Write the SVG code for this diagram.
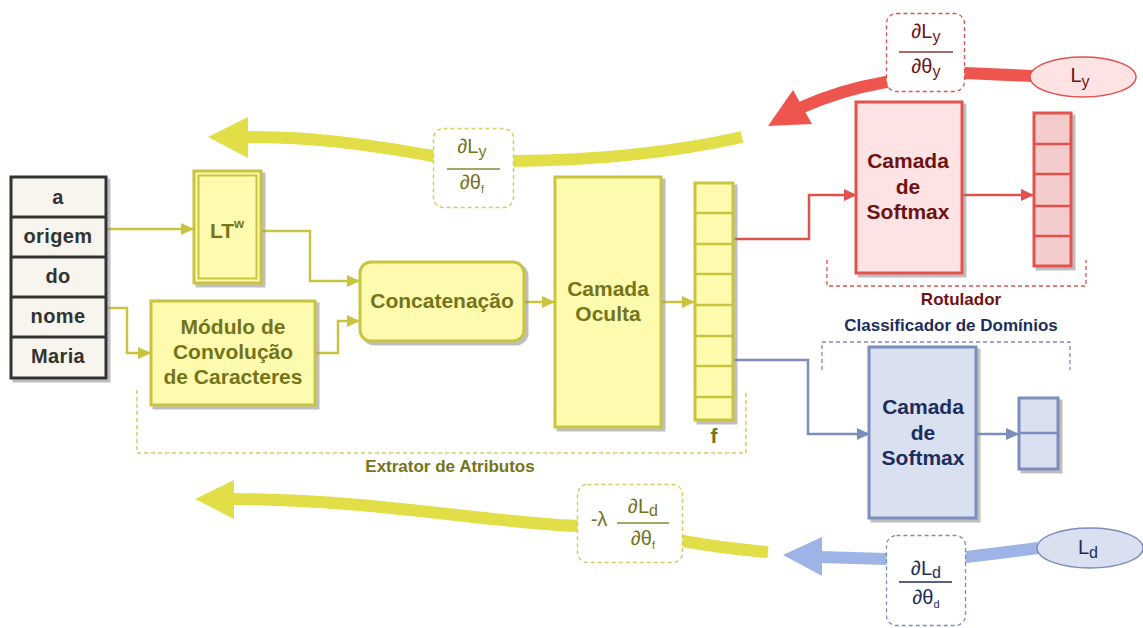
<svg xmlns="http://www.w3.org/2000/svg" width="1143" height="628" viewBox="0 0 1143 628">
<defs>
<filter id="sh" x="-10%" y="-10%" width="130%" height="130%"><feDropShadow dx="3" dy="3" stdDeviation="0.6" flood-color="#888" flood-opacity="0.55"/></filter>
<marker id="ay" markerUnits="userSpaceOnUse" markerWidth="13" markerHeight="12" refX="12" refY="6" orient="auto"><path d="M0,0 L13,6 L0,12 z" fill="#c9c43e"/></marker>
<marker id="ar" markerUnits="userSpaceOnUse" markerWidth="13" markerHeight="12" refX="12" refY="6" orient="auto"><path d="M0,0 L13,6 L0,12 z" fill="#e2524c"/></marker>
<marker id="ab" markerUnits="userSpaceOnUse" markerWidth="13" markerHeight="12" refX="12" refY="6" orient="auto"><path d="M0,0 L13,6 L0,12 z" fill="#7a8dbd"/></marker>
</defs>
<style>
text{font-family:"Liberation Sans",Arial,sans-serif;text-anchor:middle}
.b{font-weight:bold}
.yb{fill:#fefbae;stroke:#c9c43e;stroke-width:3}
.yt{fill:#74741a;font-weight:bold;font-size:21px}
.wt{fill:#333;font-weight:bold;font-size:20px;letter-spacing:0.4px}
.rb{fill:#fde3e3;stroke:#e2524c;stroke-width:3}
.rv{fill:#f4cccc;stroke:#e2524c;stroke-width:3}
.rt{fill:#6e1313;font-weight:bold;font-size:21px}
.bb{fill:#d9e0f0;stroke:#7a8dbd;stroke-width:3}
.bt{fill:#1c2d5e;font-weight:bold;font-size:21px}
.cy{fill:none;stroke:#c9c43e;stroke-width:2.5}
.cr{fill:none;stroke:#e2524c;stroke-width:2.5}
.cbl{fill:none;stroke:#7a8dbd;stroke-width:2.5}
.fr{font-size:20px}
.lb{font-weight:bold;font-size:17px}
</style>

<g id="connectors">
<path class="cy" d="M106,229 H193" marker-end="url(#ay)"/>
<path class="cy" d="M106,308 H127 V353 H150" marker-end="url(#ay)"/>
<path class="cy" d="M262,231 H310 V281 H359" marker-end="url(#ay)"/>
<path class="cy" d="M316,353 H338 V321 H359" marker-end="url(#ay)"/>
<path class="cy" d="M525,302 H554" marker-end="url(#ay)"/>
<path class="cy" d="M662,302 H694" marker-end="url(#ay)"/>
<path class="cr" d="M733,239 H809 V195 H856" marker-end="url(#ar)"/>
<path class="cr" d="M963,195 H1033" marker-end="url(#ar)"/>
<path class="cbl" d="M733,360 H808 V434 H869" marker-end="url(#ab)"/>
<path class="cbl" d="M977,434 H1018" marker-end="url(#ab)"/>
<path d="M742,137 Q640,160 514,161 L433,156 C360,143 310,137 246,137" fill="none" stroke="#e2de48" stroke-width="12"/>
<path d="M208,137 L248,117 L248,158 z" fill="#e2de48"/>
<path d="M768,552 Q720,548 683,541 L577,526 C480,522 380,500 232,499" fill="none" stroke="#e2de48" stroke-width="12"/>
<path d="M195,499 L234,480 L234,519 z" fill="#e2de48"/>
<path d="M1032,76 L965,73 L886,82 Q840,90 800,108" fill="none" stroke="#ee554f" stroke-width="12"/>
<path d="M768,126 L793,90 L812,124 z" fill="#ee554f"/>
<path d="M1038,548 Q1000,553 966,557 L886,559 L820,557" fill="none" stroke="#9fb4e6" stroke-width="12"/>
<path d="M783,555 L822,537 L822,576 z" fill="#9fb4e6"/>
</g>

<g id="words" filter="url(#sh)">
<rect x="11" y="177" width="95" height="201" fill="#f7f5ee" stroke="#333" stroke-width="3"/>
<path d="M11,217 H106 M11,257 H106 M11,297 H106 M11,337 H106" stroke="#333" stroke-width="3"/>
</g>
<g id="word-texts">
<text class="wt" x="58" y="204">a</text>
<text class="wt" x="58" y="243">origem</text>
<text class="wt" x="58" y="283">do</text>
<text class="wt" x="58" y="323">nome</text>
<text class="wt" x="58" y="363">Maria</text>
</g>

<g id="ltw">
<rect class="yb" x="194" y="171" width="67" height="112" filter="url(#sh)"/>
<rect x="198.5" y="175.5" width="58" height="103" fill="none" stroke="#c9c43e" stroke-width="2"/>
<text class="yt" x="227" y="238">LT<tspan font-size="13" dy="-10">w</tspan></text>
</g>

<g id="modulo">
<rect class="yb" x="151" y="301" width="164" height="104" filter="url(#sh)"/>
<text class="yt" x="233" y="334">Módulo de</text>
<text class="yt" x="233" y="359">Convolução</text>
<text class="yt" x="233" y="384">de Caracteres</text>
</g>

<g id="concat">
<rect class="yb" x="360" y="262" width="164" height="79" rx="11" filter="url(#sh)"/>
<text class="yt" x="442" y="308">Concatenação</text>
</g>

<g id="oculta">
<rect class="yb" x="555" y="177" width="106" height="250" filter="url(#sh)"/>
<text class="yt" x="608" y="296">Camada</text>
<text class="yt" x="608" y="321">Oculta</text>
</g>

<g id="fvec">
<rect class="yb" x="695" y="183" width="38" height="237" filter="url(#sh)"/>
<path d="M695,213 H733 M695,244 H733 M695,274 H733 M695,305 H733 M695,336 H733 M695,366 H733 M695,397 H733" stroke="#c9c43e" stroke-width="2.5"/>
<text class="yt" x="714" y="443" font-size="19">f</text>
</g>

<g id="extrator">
<path d="M137,390 V453 H746 V393" fill="none" stroke="#d2ce62" stroke-width="1.5" stroke-dasharray="4,3"/>
<text class="lb" x="450" y="472" fill="#74741a">Extrator de Atributos</text>
</g>

<g id="grad-top">
<rect x="433.5" y="128.5" width="80" height="79" rx="10" fill="#fff" stroke="#d2ce62" stroke-width="1.5" stroke-dasharray="4,3"/>
<text class="fr" x="472" y="153" fill="#74741a">∂L<tspan font-size="16" dy="4">y</tspan></text>
<line x1="447" y1="169" x2="500" y2="169" stroke="#8a8a30" stroke-width="1.5"/>
<text class="fr" x="472" y="189" fill="#74741a">∂θ<tspan font-size="11" dy="4">f</tspan></text>
</g>

<g id="grad-bottom">
<rect x="577.5" y="484.5" width="105" height="78" rx="10" fill="#fff" stroke="#d2ce62" stroke-width="1.5" stroke-dasharray="4,3"/>
<text class="fr" x="599" y="526" fill="#74741a">-λ</text>
<text class="fr" x="643" y="513" fill="#74741a">∂L<tspan font-size="16" dy="3">d</tspan></text>
<line x1="617" y1="523" x2="669" y2="523" stroke="#8a8a30" stroke-width="1.5"/>
<text class="fr" x="643" y="545" fill="#74741a">∂θ<tspan font-size="11" dy="4">f</tspan></text>
</g>

<g id="softmax-red">
<rect class="rb" x="856" y="102" width="106" height="171" filter="url(#sh)"/>
<text class="rt" x="908" y="168">Camada</text>
<text class="rt" x="908" y="194">de</text>
<text class="rt" x="908" y="219">Softmax</text>
</g>

<g id="vec-red">
<rect class="rv" x="1034" y="113" width="37" height="153" filter="url(#sh)"/>
<path d="M1034,144 H1071 M1034,174 H1071 M1034,206 H1071 M1034,236 H1071" stroke="#e2524c" stroke-width="2.5"/>
</g>

<g id="rotulador">
<path d="M827,260 V286 H1086 V260" fill="none" stroke="#e2524c" stroke-width="1.3" stroke-dasharray="4,3"/>
<text class="lb" x="961" y="305" fill="#6e1313">Rotulador</text>
</g>

<g id="ly">
<ellipse cx="1083" cy="77" rx="53" ry="20" fill="#fde3e3" stroke="#e2524c" stroke-width="1.5"/>
<text class="fr" x="1080" y="82" fill="#6e1313" font-size="21">L<tspan font-size="16" dy="5">y</tspan></text>
</g>

<g id="grad-ly">
<rect x="886.5" y="13.5" width="78" height="78" rx="10" fill="#fff" stroke="#e2524c" stroke-width="1.3" stroke-dasharray="4,3"/>
<text class="fr" x="926" y="38" fill="#6e1313">∂L<tspan font-size="16" dy="4">y</tspan></text>
<line x1="899" y1="52" x2="953" y2="52" stroke="#8a3a3a" stroke-width="1.5"/>
<text class="fr" x="926" y="73" fill="#6e1313">∂θ<tspan font-size="16" dy="4">y</tspan></text>
</g>

<g id="classificador">
<path d="M822,370 V342 H1070 V370" fill="none" stroke="#7a8dbd" stroke-width="1.3" stroke-dasharray="4,3"/>
<text class="lb" x="951" y="331" fill="#1c2d5e">Classificador de Domínios</text>
</g>

<g id="softmax-blue">
<rect class="bb" x="869" y="347" width="107" height="171" filter="url(#sh)"/>
<text class="bt" x="923" y="414">Camada</text>
<text class="bt" x="923" y="440">de</text>
<text class="bt" x="923" y="465">Softmax</text>
</g>

<g id="vec-blue">
<rect class="bb" x="1019" y="398" width="39" height="71" filter="url(#sh)"/>
<path d="M1019,433 H1058" stroke="#7a8dbd" stroke-width="2.5"/>
</g>

<g id="ld">
<ellipse cx="1090" cy="548" rx="53" ry="20" fill="#d9e0f0" stroke="#7a8dbd" stroke-width="1.5"/>
<text class="fr" x="1088" y="554" fill="#1c2d5e" font-size="21">L<tspan font-size="16" dy="4">d</tspan></text>
</g>

<g id="grad-ld">
<rect x="886.5" y="535.5" width="79" height="90" rx="10" fill="#fff" stroke="#7a8dbd" stroke-width="1.3" stroke-dasharray="4,3"/>
<text class="fr" x="926" y="575" fill="#1c2d5e">∂L<tspan font-size="16" dy="3">d</tspan></text>
<line x1="899" y1="582" x2="952" y2="582" stroke="#1c2d5e" stroke-width="1.5"/>
<text class="fr" x="926" y="604" fill="#1c2d5e">∂θ<tspan font-size="11" dy="4">d</tspan></text>
</g>
</svg>
